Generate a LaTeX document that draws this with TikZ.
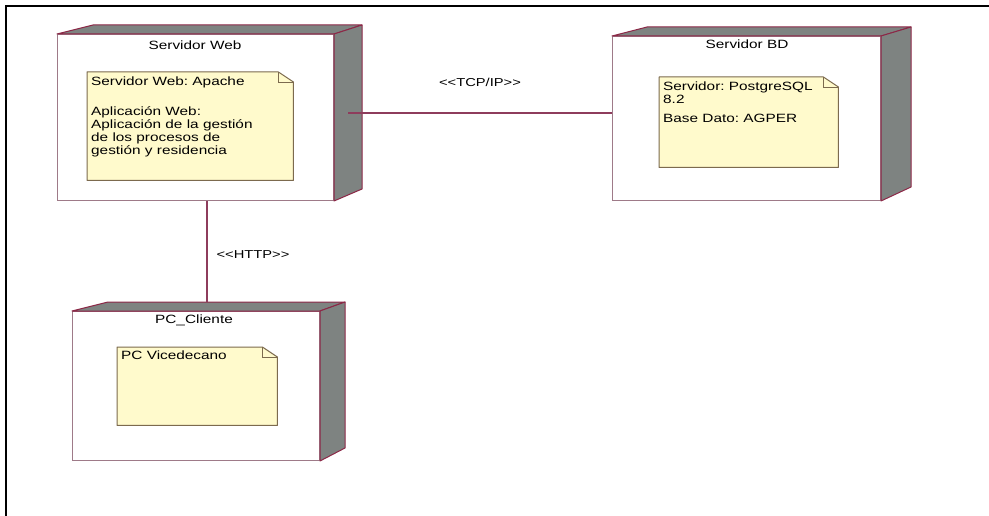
\documentclass[tikz,border=0pt]{standalone}
\usepackage{fontspec}
\setmainfont[FakeStretch=1.28]{Liberation Sans}
\usetikzlibrary{calc}
\frenchspacing
\definecolor{nodeline}{HTML}{8C2847}
\definecolor{facegray}{HTML}{7E8381}
\definecolor{frontline}{HTML}{9E7A88}
\definecolor{notefill}{HTML}{FFFACC}
\definecolor{noteline}{HTML}{7C6A4E}
\definecolor{linkcol}{HTML}{8E3C5C}
\tikzset{
  front/.style={draw=frontline, line width=1pt, fill=white, rectangle, inner sep=0pt, anchor=north west},
  face/.style={fill=facegray, draw=nodeline, line width=1pt, line join=round},
  notebox/.style={rectangle, inner sep=0pt, anchor=north west},
  notetext/.style={inner sep=0pt, anchor=north west, align=left, font=\fontsize{12}{13}\selectfont},
  titletext/.style={inner sep=0pt, font=\fontsize{12}{13}\selectfont},
  linktext/.style={inner sep=0pt, font=\fontsize{11.5}{13}\selectfont},
  link/.style={draw=linkcol, line width=1.1pt}
}
% #1 node name, #2 left dx, #3 right dx, #4 top dy, #5 bottom dy
\newcommand\cubeparts[5]{%
  \path (#1.north west) ++(#2,-#4) coordinate (#1tl);
  \path (#1.north east) ++(#3,-#4) coordinate (#1tr);
  \path (#1.south east) ++(#3,-#5) coordinate (#1br);
  \filldraw[face] (#1.north west) -- (#1tl) -- (#1tr) -- (#1.north east) -- cycle;
  \filldraw[face] (#1.north east) -- (#1tr) -- (#1br) -- (#1.south east) -- cycle;
}
% #1 note node name
\newcommand\notepaper[1]{%
  \filldraw[fill=notefill, draw=noteline, line width=1pt, line join=round]
    (#1.north west) -- ($(#1.north east)+(-15,0)$) -- ($(#1.north east)+(0,10)$)
    -- (#1.south east) -- (#1.south west) -- cycle;
  \draw[draw=noteline, line width=0.8pt] ($(#1.north east)+(-15,0)$) -- ($(#1.north east)+(-15,10)$) -- ($(#1.north east)+(0,10)$);
}
\newcommand\lt{\textless\kern0pt}
\newcommand\gt{\kern0pt\textgreater}
\begin{document}
\begin{tikzpicture}[x=1pt,y=-1pt]
\useasboundingbox (0,0) rectangle (989,516);
\fill[white] (0,0) rectangle (989,516);
\draw[line width=2pt] (6,516) -- (6,6) -- (989,6);

% nodes (front faces)
\node[front, minimum width=276pt, minimum height=166pt] (web) at (57,34) {};
\node[front, minimum width=268pt, minimum height=164pt] (bd) at (612,36) {};
\node[front, minimum width=247pt, minimum height=149pt] (pc) at (72,311) {};
\cubeparts{web}{36}{28}{9}{12}
\cubeparts{bd}{35}{30}{9}{14}
\cubeparts{pc}{36}{25}{9}{13}

% titles
\node[titletext] (webt) at (195,45) {Servidor Web};
\node[titletext] (bdt) at (747,44) {Servidor BD};
\node[titletext] (pct) at (194,320) {PC\_Cliente};

% notes
\node[notebox, minimum width=206pt, minimum height=108pt] (webn) at (87,72) {};
\node[notebox, minimum width=179pt, minimum height=90pt] (bdn) at (659,77) {};
\node[notebox, minimum width=160pt, minimum height=78pt] (pcn) at (117,347) {};
\notepaper{webn}
\notepaper{bdn}
\notepaper{pcn}
\node[notetext] (webnt) at (91,77) {Servidor Web: Apache\\[17pt]Aplicación Web:\\Aplicación de la gestión\\de los procesos de\\gestión y residencia};
\node[notetext] (bdnt) at (663,82) {Servidor: PostgreSQL\\8.2\\[6pt]Base Dato: AGPER};
\node[notetext] (pcnt) at (121,351) {PC Vicedecano};

% connectors
\coordinate (tcpA) at (348,113);
\draw[link] (tcpA) -- (tcpA -| bd.west);
\coordinate (httpA) at (207,200);
\draw[link] (httpA |- web.south) -- (httpA |- pctl);
\node[linktext] (tcpl) at (480,82) {\lt\lt TCP/IP\gt\gt};
\node[linktext] (httpl) at (253,255) {\lt\lt HTTP\gt\gt};
\end{tikzpicture}
\end{document}
